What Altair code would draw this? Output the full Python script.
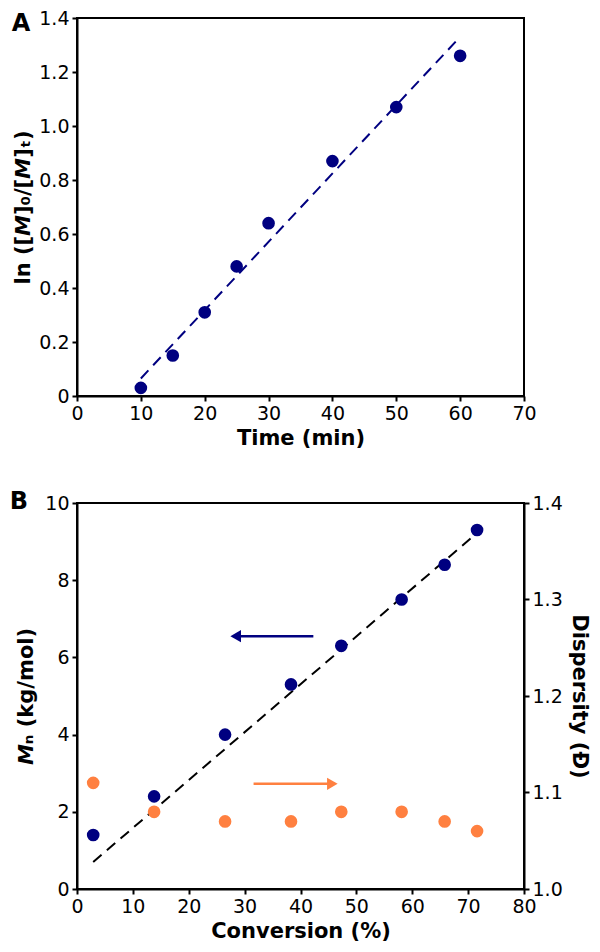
import altair as alt
import pandas as pd

FONT = "DejaVu Sans"
NAVY = "#000080"
ORANGE = "#FF8040"

# Panel A data
time_min = [10, 15, 20, 25, 30, 40, 50, 60]
ln_ratio = [0.03, 0.15, 0.31, 0.48, 0.64, 0.87, 1.07, 1.26]
fit_a_time = [10, 60]
fit_a_val = [0.065, 1.33]

# Panel B data
conversion = [2.9, 13.8, 26.5, 38.3, 47.3, 58.1, 65.8, 71.6]
mn = [1.4, 2.4, 4.0, 5.3, 6.3, 7.5, 8.4, 9.3]
dispersity = [1.11, 1.08, 1.07, 1.07, 1.08, 1.08, 1.07, 1.06]
fit_b_conv = [2.9, 71.0]
fit_b_mn = [0.7, 9.15]
arrow_mn = {"x": [42.3], "x2": [28.4], "y": [6.55]}
arrow_d = {"x": [31.6], "x2": [45.7], "y": [1.109]}

W = 447

axis_common = dict(
    domainColor="black", domainWidth=2, tickColor="black", tickWidth=2, tickSize=5,
    labelFont=FONT, labelFontSize=19, labelColor="black", labelPadding=3,
    labelFlush=False, labelOverlap=False,
    titleFont=FONT, titleFontSize=21, titleFontWeight="bold", titleColor="black",
    grid=False,
)


def x_enc(field, domain, step, title):
    return alt.X(field, scale=alt.Scale(domain=domain, nice=False),
                 axis=alt.Axis(values=list(range(domain[0], domain[1] + 1, step)), title=title,
                               titlePadding=4, **axis_common))


# ---------- Panel A ----------
dfA = pd.DataFrame({"x": time_min, "y": ln_ratio})
dfAfit = pd.DataFrame({"x": fit_a_time, "y": fit_a_val})
xA = x_enc("x:Q", [0, 70], 10, "Time (min)")
yA = alt.Y("y:Q", scale=alt.Scale(domain=[0, 1.4], nice=False),
           axis=alt.Axis(values=[0, 0.2, 0.4, 0.6, 0.8, 1.0, 1.2, 1.4],
                         labelExpr="datum.value == 0 ? '0' : format(datum.value, '.1f')",
                         title="ln ([𝙈]₀/[𝙈]ₜ)", titlePadding=5, **axis_common))

lineA = alt.Chart(dfAfit).mark_line(color=NAVY, strokeWidth=2, strokeDash=[11, 7]).encode(x=xA, y=yA)
ptsA = alt.Chart(dfA).mark_circle(color=NAVY, size=160, opacity=1).encode(x=xA, y=yA)
labA = alt.Chart(pd.DataFrame({"t": ["A"]})).mark_text(
    font=FONT, fontSize=24, fontWeight="bold", color="black", align="center", baseline="top"
).encode(text="t:N", x=alt.value(-56), y=alt.value(-6))

chartA = alt.layer(lineA, ptsA, labA).properties(width=W, height=378)

# ---------- Panel B ----------
dfB = pd.DataFrame({"x": conversion, "y": mn})
dfD = pd.DataFrame({"x": conversion, "y": dispersity})
dfBfit = pd.DataFrame({"x": fit_b_conv, "y": fit_b_mn})
dfArrMn = pd.DataFrame(arrow_mn)
dfArrD = pd.DataFrame(arrow_d)

xB = x_enc("x:Q", [0, 80], 10, "Conversion (%)")
xBh = x_enc("x2:Q", [0, 80], 10, "Conversion (%)")
yL = alt.Y("y:Q", scale=alt.Scale(domain=[0, 10], nice=False),
           axis=alt.Axis(values=[0, 2, 4, 6, 8, 10], title="𝙈ₙ (kg/mol)", titlePadding=8, **axis_common))
yR = alt.Y("y:Q", scale=alt.Scale(domain=[1.0, 1.4], nice=False),
           axis=alt.Axis(values=[1.0, 1.1, 1.2, 1.3, 1.4], format=".1f", orient="right",
                         title="Dispersity (Đ)", titlePadding=6, **axis_common))

fitB = alt.Chart(dfBfit).mark_line(color="black", strokeWidth=2, strokeDash=[11, 7]).encode(x=xB, y=yL)
ptsMn = alt.Chart(dfB).mark_circle(color=NAVY, size=160, opacity=1).encode(x=xB, y=yL)
ruleMn = alt.Chart(dfArrMn).mark_rule(color=NAVY, strokeWidth=2.5).encode(x=xB, x2="x2:Q", y=yL)
headMn = alt.Chart(dfArrMn).mark_point(shape="triangle-left", filled=True, color=NAVY, size=150, opacity=1).encode(
    x=xBh, y=yL)
labB = alt.Chart(pd.DataFrame({"t": ["B"]})).mark_text(
    font=FONT, fontSize=24, fontWeight="bold", color="black", align="center", baseline="middle"
).encode(text="t:N", x=alt.value(-58), y=alt.value(-1.5))

ptsD = alt.Chart(dfD).mark_circle(color=ORANGE, size=160, opacity=1).encode(x=xB, y=yR)
ruleD = alt.Chart(dfArrD).mark_rule(color=ORANGE, strokeWidth=2.5).encode(x=xB, x2="x2:Q", y=yR)
headD = alt.Chart(dfArrD).mark_point(shape="triangle-right", filled=True, color=ORANGE, size=150, opacity=1).encode(
    x=xBh, y=yR)

left = alt.layer(fitB, ptsMn, ruleMn, headMn, labB)
right = alt.layer(ptsD, ruleD, headD)
chartB = alt.layer(left, right).resolve_scale(y="independent").properties(width=W, height=386)

chart = alt.vconcat(chartA, chartB, spacing=39).properties(
    padding={"left": 0, "top": 0, "right": 0, "bottom": 0}
).configure_view(stroke="black", strokeWidth=2)

chart.save("out.html", embed_options={"renderer": "svg", "actions": False})
